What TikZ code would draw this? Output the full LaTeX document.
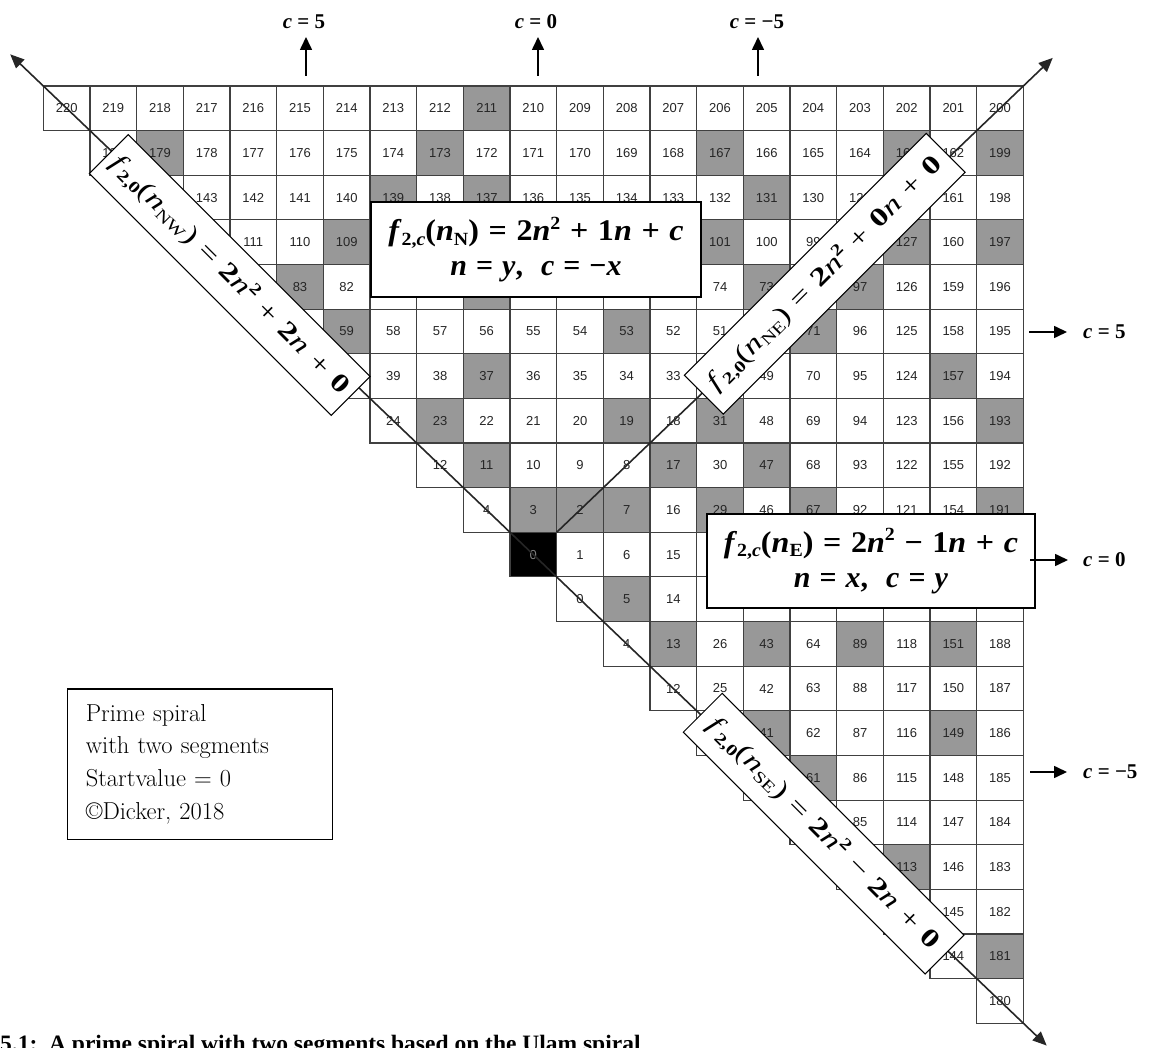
\documentclass[tikz,border=0pt]{standalone}
\usepackage{fontspec}
\usepackage{graphicx}
\newfontfamily\tms{Liberation Serif}
\newfontfamily\ars{Liberation Sans}
\usetikzlibrary{arrows.meta,calc}
\definecolor{pgray}{RGB}{152,152,152}
\newcommand{\dn}[1]{\raisebox{-0.32ex}{\scalebox{0.62}{#1}}}
\newcommand{\up}[1]{\raisebox{0.85ex}{\scalebox{0.62}{#1}}}
\newcommand{\eqs}{\hspace{0.3em}=\hspace{0.3em}}
\newcommand{\pls}{\hspace{0.3em}+\hspace{0.3em}}
\newcommand{\mns}{\hspace{0.3em}−\hspace{0.3em}}
\newcommand{\rtext}[1]{\scalebox{1.3}[1]{#1}}
\newcommand{\wide}[1]{\scalebox{1.07}[1]{#1}}
\begin{document}
\begin{tikzpicture}[x=1pt,y=-1pt,
  cell/.style={draw=black!75, line width=1.1pt, minimum width=46.667pt, minimum height=44.63pt,
    inner sep=0pt, outer sep=0pt, font=\ars\fontsize{13}{13}\selectfont},
  diag/.style={line width=1.6pt, draw=black!85},
  arr/.style={line width=1.6pt, -{Triangle[length=13pt,width=12pt]}},
  fbox/.style={draw, line width=1.3pt, fill=white, align=center, inner sep=0pt,
    font=\tms\bfseries\fontsize{30}{35}\selectfont},
  rbox/.style={draw, line width=1pt, fill=white, inner sep=0pt, minimum width=342pt,
    minimum height=55pt, font=\tms\fontsize{26}{26}\selectfont},
  clab/.style={inner sep=0pt, font=\tms\bfseries\fontsize{21}{21}\selectfont}]
\useasboundingbox (0,0) rectangle (1149,1048);
\clip (0,0) rectangle (1149,1048);
\fill[white] (0,0) rectangle (1149,1048);
\foreach \p in {2,3,5,7,11,13,17,19,23,29,31,37,41,43,47,53,59,61,67,71,73,79,83,89,97,101,103,107,109,113,127,131,137,139,149,151,157,163,167,173,179,181,191,193,197,199,211}{\expandafter\xdef\csname isprime\p\endcsname{1}}
\foreach \x in {-10,...,10}{
  \foreach \y in {-10,...,10}{
    \ifnum\numexpr\x+\y\relax<0 \else
      \ifnum\y<\x
        \pgfmathtruncatemacro\v{2*\x*\x-\x+\y}
      \else
        \pgfmathtruncatemacro\v{2*\y*\y+\y-\x}
      \fi
      \ifcsname isprime\v\endcsname \def\cf{pgray}\else\def\cf{white}\fi
      \def\tc{black!85}
      \ifnum\x=0 \ifnum\y=0 \def\cf{black}\def\tc{gray}\fi\fi
      \node[cell, fill=\cf, text=\tc] (c\x x\y) at ({43.33+(\x+10)*46.667+23.333},{86+(10-\y)*44.63+22.315}) {\v};
    \fi
  }
}
% diagonals
\coordinate (nwtip) at ($(c0x0.north west)!-10.71!(c0x0.south east)$);
\coordinate (setip) at ($(c0x0.north west)!11.5!(c0x0.south east)$);
\coordinate (netip) at ($(c0x0.north east)!10.63!(c1x1.north east)$);
\draw[diag, {Triangle[length=14pt,width=12pt]}-{Triangle[length=14pt,width=12pt]}] (nwtip) -- (setip);
\draw[diag, -{Triangle[length=14pt,width=12pt]}] (c0x0.north east) -- (netip);
% rotated labels
\node[rbox, rotate=-45] (lnw) at (229.75,275) {\rtext{\textit{f}\dn{\textbf{2,0}}(\textit{n}\dn{NW})\eqs\textbf{2}\textit{n}\up{\textbf{2}}\pls\textbf{2}\textit{n}\pls\textbf{0}}};
\node[rbox, rotate=45] (lne) at (824.75,273.75) {\rtext{\textit{f}\dn{\textbf{2,0}}(\textit{n}\dn{NE})\eqs\textbf{2}\textit{n}\up{\textbf{2}}\pls\textbf{0}\textit{n}\pls\textbf{0}}};
\node[rbox, rotate=-45] (lse) at (823.65,833.7) {\rtext{\textit{f}\dn{\textbf{2,0}}(\textit{n}\dn{SE})\eqs\textbf{2}\textit{n}\up{\textbf{2}}\mns\textbf{2}\textit{n}\pls\textbf{0}}};
% formula boxes
\node[fbox, minimum width=330pt, minimum height=95pt] (nbox) at (536,249.5)
  {\wide{\textit{f}\dn{2,\textit{c}}(\textit{n}\dn{N})\eqs2\textit{n}\up{2}\pls1\textit{n}\pls\textit{c}}\\
   \textit{n}\eqs\textit{y},\hspace{0.6em}\textit{c}\eqs−\textit{x}};
\node[fbox, minimum width=328pt, minimum height=94pt] (ebox) at (871,561)
  {\wide{\textit{f}\dn{2,\textit{c}}(\textit{n}\dn{E})\eqs2\textit{n}\up{2}\mns1\textit{n}\pls\textit{c}}\\
   \textit{n}\eqs\textit{x},\hspace{0.6em}\textit{c}\eqs\textit{y}};
% top labels
\node[clab] (tl5) at (304,22) {\textit{c} = 5};
\node[clab] (tl0) at (536,22) {\textit{c} = 0};
\node[clab] (tlm5) at (757,22) {\textit{c} = −5};
\coordinate (t5a) at (306,76); \coordinate (t5b) at (306,37);
\coordinate (t0a) at (538,76); \coordinate (t0b) at (538,37);
\coordinate (tm5a) at (758,76); \coordinate (tm5b) at (758,37);
\draw[arr] (t5a) -- (t5b);
\draw[arr] (t0a) -- (t0b);
\draw[arr] (tm5a) -- (tm5b);
% right labels
\node[clab, anchor=west] (rl5) at (1083,332) {\textit{c} = 5};
\node[clab, anchor=west] (rl0) at (1083,560) {\textit{c} = 0};
\node[clab, anchor=west] (rlm5) at (1083,772) {\textit{c} = −5};
\coordinate (r5a) at (1029,332); \coordinate (r5b) at (1067,332);
\coordinate (r0a) at (1030,560); \coordinate (r0b) at (1068,560);
\coordinate (rm5a) at (1030,772); \coordinate (rm5b) at (1067,772);
\draw[arr] (r5a) -- (r5b);
\draw[arr] (r0a) -- (r0b);
\draw[arr] (rm5a) -- (rm5b);
% legend
\node[draw, line width=1.2pt, anchor=north west, text width=228pt, inner xsep=18.5pt, inner ysep=0pt,
  minimum height=150.7pt, align=left, font=\fontsize{24.5}{32.8}\selectfont] (legend) at (66.7,688.3)
  {Prime spiral\\with two segments\\Startvalue = 0\\©Dicker, 2018};
% caption (cut by the lower edge)
\node[anchor=base west, inner sep=0pt, font=\tms\bfseries\fontsize{23.5}{24}\selectfont] (caption) at (0,1051)
  {5.1:\ \ A prime spiral with two segments based on the Ulam spiral};
\end{tikzpicture}
\end{document}
